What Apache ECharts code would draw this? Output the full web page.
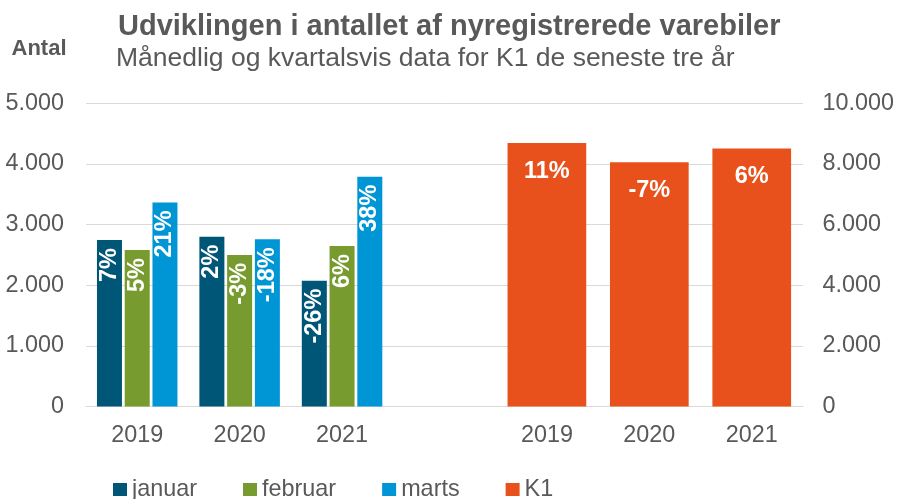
<!DOCTYPE html>
<html>
<head>
<meta charset="utf-8">
<script src="https://cdn.jsdelivr.net/npm/echarts@6/dist/echarts.min.js"></script>
<style>html,body{margin:0;padding:0;background:#fff}#c{width:897px;height:499px}</style>
</head>
<body>
<div id="c"></div>
<script>
var categories = ['2019', '2020', '2021', '', '2019', '2020', '2021'];
var januar = [2745, 2800, 2075];
var februar = [2580, 2500, 2647];
var marts = [3365, 2757, 3790];
var k1 = [8690, 8057, 8512];
var januarPct = ['7%', '2%', '-26%'];
var februarPct = ['5%', '-3%', '6%'];
var martsPct = ['21%', '-18%', '38%'];
var k1Pct = ['11%', '-7%', '6%'];
var leftTicks = [0, 1000, 2000, 3000, 4000, 5000];
var rightTicks = [0, 2000, 4000, 6000, 8000, 10000];

var FONT = '"Liberation Sans", Arial, sans-serif';
var TXT = '#595959';

function fmt(v) {
  return String(v).replace(/\B(?=(\d{3})+(?!\d))/g, '.');
}
function padMonths(arr) { return arr.concat([null, null, null, null]); }
function padK1(arr) { return [null, null, null, null].concat(arr); }

function monthLabel(pcts) {
  return {
    show: true, position: 'insideTop', distance: 8, rotate: 90,
    align: 'right', verticalAlign: 'middle',
    color: '#fff', fontWeight: 'bold', fontSize: 23.5, fontFamily: FONT,
    formatter: function (p) { return pcts[p.dataIndex] || ''; }
  };
}

var chart = echarts.init(document.getElementById('c'), null, { renderer: 'canvas' });
chart.setOption({
  animation: false,
  backgroundColor: '#fff',
  title: [
    { text: 'Udviklingen i antallet af nyregistrerede varebiler', left: 113, top: 7,
      textStyle: { fontFamily: FONT, fontSize: 29, fontWeight: 'bold', color: TXT } },
    { text: 'Månedlig og kvartalsvis data for K1 de seneste tre år', left: 111, top: 40,
      textStyle: { fontFamily: FONT, fontSize: 26.5, fontWeight: 'normal', color: TXT } },
    { text: 'Antal', left: 6.5, top: 33,
      textStyle: { fontFamily: FONT, fontSize: 22, fontWeight: 'bold', color: TXT } }
  ],
  legend: {
    left: 108, top: 473, itemWidth: 14, itemHeight: 13, itemGap: 46,
    icon: 'rect',
    textStyle: { fontFamily: FONT, fontSize: 23.4, color: TXT },
    data: ['januar', 'februar', 'marts', 'K1']
  },
  grid: { left: 86, right: 93.5, top: 103.3, bottom: 92.5, containLabel: false },
  xAxis: [
    { type: 'category', data: categories,
      axisLine: { show: true, lineStyle: { color: '#d9d9d9', width: 1 } },
      axisTick: { show: false },
      axisLabel: { fontFamily: FONT, fontSize: 23.4, color: TXT, margin: 18, interval: 0 } },
    { type: 'category', data: categories, show: false }
  ],
  yAxis: [
    { type: 'value', min: 0, max: 5000, interval: 1000, position: 'left',
      axisLine: { show: false }, axisTick: { show: false },
      splitLine: { lineStyle: { color: '#d9d9d9', width: 1 } },
      axisLabel: { fontFamily: FONT, fontSize: 23.4, color: TXT, margin: 22,
        formatter: function (v) { return leftTicks.indexOf(v) >= 0 ? fmt(v) : ''; } } },
    { type: 'value', min: 0, max: 10000, interval: 2000, position: 'right',
      axisLine: { show: false }, axisTick: { show: false }, splitLine: { show: false },
      axisLabel: { fontFamily: FONT, fontSize: 23.4, color: TXT, margin: 19.5,
        formatter: function (v) { return rightTicks.indexOf(v) >= 0 ? fmt(v) : ''; } } }
  ],
  series: [
    { name: 'januar', type: 'bar', xAxisIndex: 0, yAxisIndex: 0, data: padMonths(januar),
      barWidth: 25, barGap: '11%', itemStyle: { color: '#005677' }, label: monthLabel(januarPct) },
    { name: 'februar', type: 'bar', xAxisIndex: 0, yAxisIndex: 0, data: padMonths(februar),
      barWidth: 25, barGap: '11%', itemStyle: { color: '#779b2e' }, label: monthLabel(februarPct) },
    { name: 'marts', type: 'bar', xAxisIndex: 0, yAxisIndex: 0, data: padMonths(marts),
      barWidth: 25, barGap: '11%', itemStyle: { color: '#0096d6' }, label: monthLabel(martsPct) },
    { name: 'K1', type: 'bar', xAxisIndex: 1, yAxisIndex: 1, data: padK1(k1),
      barWidth: 78.7, itemStyle: { color: '#e8511c' },
      label: { show: true, position: 'insideTop', distance: 16, color: '#fff',
        fontWeight: 'bold', fontSize: 23.5, fontFamily: FONT,
        formatter: function (p) { return k1Pct[p.dataIndex - 4] || ''; } } }
  ]
});
</script>
</body>
</html>
